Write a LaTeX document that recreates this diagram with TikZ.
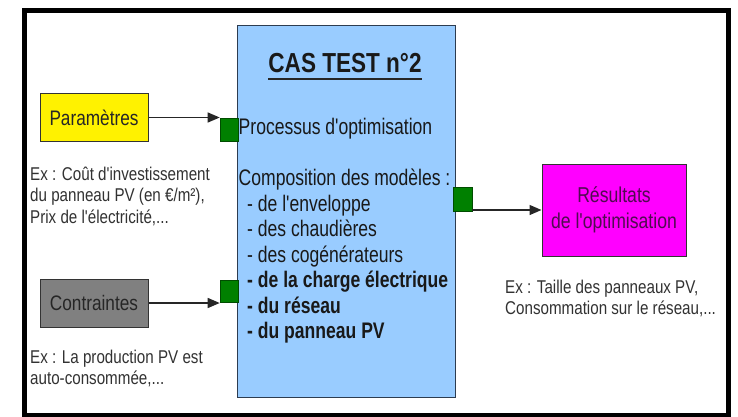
\documentclass[tikz,border=0pt]{standalone}
\usepackage{graphicx}
\usepackage{fontspec}
\setmainfont{Liberation Sans}[Ligatures=TeXOff]
\usetikzlibrary{arrows.meta}
\definecolor{bluefill}{RGB}{153,204,255}
\definecolor{blueedge}{RGB}{45,60,80}
\definecolor{portgreen}{RGB}{0,128,0}
\definecolor{boxgray}{RGB}{128,128,128}
\definecolor{resmag}{RGB}{255,0,255}
\definecolor{restext}{RGB}{80,12,80}
\definecolor{annotext}{RGB}{50,50,50}
\newcommand\sqz[2][0.82]{\scalebox{#1}[1]{#2}}
\tikzset{
  blk/.style={draw=black!80, line width=1pt, inner sep=0pt, align=center},
  port/.style={draw=green!30!black, fill=portgreen, line width=0.6pt, inner sep=0pt},
  lbl/.style={inner sep=0pt, anchor=base west},
  arr/.style={draw=black!85, line width=1.3pt, -{Triangle[length=12pt,width=10pt]}},
  anno/.style={lbl, text=annotext, font=\fontsize{18.5}{21.5}\selectfont},
  bodytxt/.style={lbl, text=black!90, font=\fontsize{22.5}{25.5}\selectfont},
}
\begin{document}
\begin{tikzpicture}[x=1pt,y=-1pt]
\useasboundingbox (0,0) rectangle (738,417);
\fill[white] (0,0) rectangle (738,417);
% outer frame
\draw[line width=4.5pt] (24.5,10.5) rectangle (728.5,415);

% central block
\node[blk, draw=blueedge, fill=bluefill, minimum width=217.5pt, minimum height=371pt] (main) at (346.25,211.5) {};
\node[inner sep=0pt, anchor=base, text=black!90, font=\bfseries\fontsize{27.5}{30}\selectfont] (title) at (345,72.5) {\sqz{CAS TEST n°2}};
\draw[line width=2pt, black!85] ([yshift=-6.5pt]title.base west) -- ([yshift=-6.5pt]title.base east);
\node[bodytxt] (proc) at (238.5,134) {\sqz[0.78]{Processus d'optimisation}};
\node[bodytxt] (comp) at (238.5,185.5) {\sqz[0.78]{\begin{tabular}[t]{@{}l@{}}
Composition des modèles :\\
\hspace*{10.9pt}- de l'enveloppe\\
\hspace*{10.9pt}- des chaudières\\
\hspace*{10.9pt}- des cogénérateurs\\
\hspace*{10.9pt}\textbf{- de la charge électrique}\\
\hspace*{10.9pt}\textbf{- du réseau}\\
\hspace*{10.9pt}\textbf{- du panneau PV}
\end{tabular}}};

% ports
\node[port, minimum width=18pt, minimum height=23pt] (g1) at (229,129.5) {};
\node[port, minimum width=18pt, minimum height=22pt] (g2) at (229,291) {};
\node[port, minimum width=19pt, minimum height=24pt] (g3) at (462.5,199) {};

% input boxes
\node[blk, fill=yellow, minimum width=108pt, minimum height=47pt, text=black!85, font=\fontsize{21}{24}\selectfont] (param) at (94,117.5) {\sqz{Paramètres}};
\node[blk, fill=boxgray, minimum width=108pt, minimum height=48pt, text=black!85, font=\fontsize{21}{24}\selectfont] (contr) at (94,303) {\sqz{Contraintes}};

% result box
\node[blk, fill=resmag, minimum width=144pt, minimum height=92pt, text=restext, font=\fontsize{21.5}{26}\selectfont] (res) at (614,210) {\sqz{\begin{tabular}{@{}c@{}}Résultats\\de l'optimisation\end{tabular}}};

% arrows
\draw[arr] (param.east) -- (param.east -| g1.west);
\draw[arr] (contr.east) -- (contr.east -| g2.west);
\draw[arr] (res.west -| g3.east) -- (res.west);

% annotations
\node[anno] (a1) at (30,180) {\sqz{\begin{tabular}[t]{@{}l@{}}Ex : Coût d'investissement\\du panneau PV (en €/m²),\\Prix de l'électricité,...\end{tabular}}};
\node[anno] (a2) at (30,363) {\sqz{\begin{tabular}[t]{@{}l@{}}Ex : La production PV est\\auto-consommée,...\end{tabular}}};
\node[anno] (a3) at (505,293) {\sqz{\begin{tabular}[t]{@{}l@{}}Ex : Taille des panneaux PV,\\Consommation sur le réseau,...\end{tabular}}};
\end{tikzpicture}
\end{document}
